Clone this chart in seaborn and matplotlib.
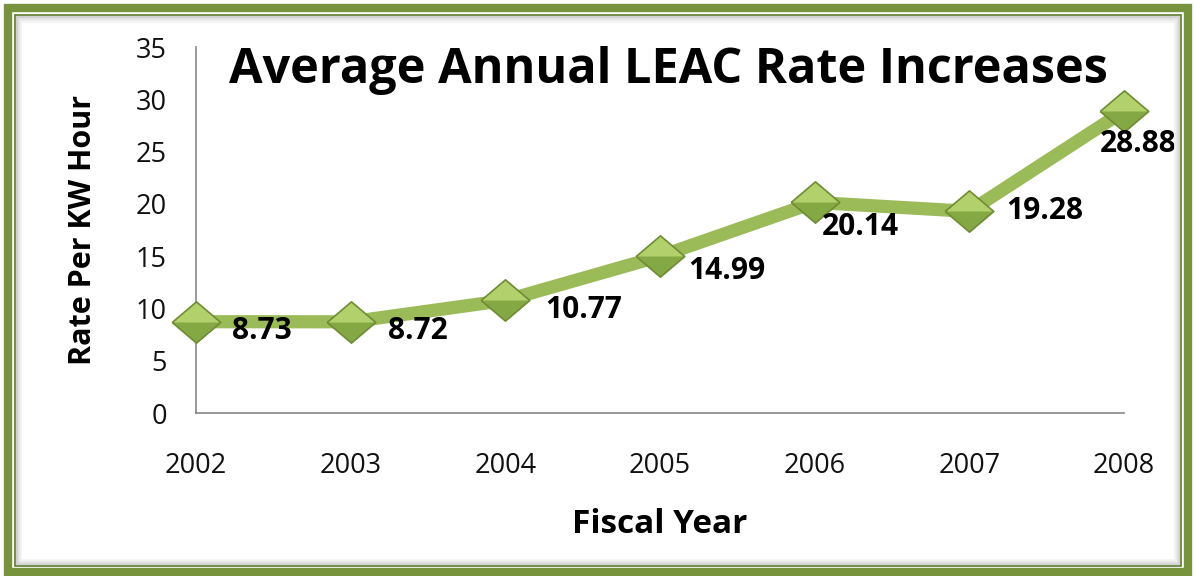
import matplotlib
matplotlib.use('Agg')
import matplotlib.pyplot as plt
import seaborn as sns
import pandas as pd
from matplotlib.patches import Rectangle

# Set seaborn style
sns.set_style('white')
plt.rcParams['font.family'] = ['Open Sans', 'DejaVu Sans']
plt.rcParams['text.color'] = 'black'
plt.rcParams['axes.labelcolor'] = 'black'

# Chart data
years = [2002, 2003, 2004, 2005, 2006, 2007, 2008]
rates = [8.73, 8.72, 10.77, 14.99, 20.14, 19.28, 28.88]
rate_labels = ['8.73', '8.72', '10.77', '14.99', '20.14', '19.28', '28.88']
y_ticks = [0, 5, 10, 15, 20, 25, 30, 35]

# label placement (pixels from the marker), like the excel data labels
label_offsets = [(36, -9), (37, -9), (40, -10), (28, -15), (7, -25), (37, 0), (-24, -33)]

df = pd.DataFrame({'Year': years, 'Rate': rates})

line_green = '#9BBB59'
frame_green = '#77933C'
axis_gray = '#868686'

fig = plt.figure(figsize=(11.96, 5.76), dpi=100)
ax = fig.add_axes([196 / 1196, 1 - 413 / 576, (1124 - 196) / 1196, (413 - 47) / 576])

# frame around the chart
fig.patches.append(Rectangle((8 / 1196, 4 / 576), 1180 / 1196, 564 / 576, transform=fig.transFigure,
                             fill=False, edgecolor=frame_green, linewidth=6, zorder=0))
fig.patches.append(Rectangle((15 / 1196, 10 / 576), 1166 / 1196, 551 / 576, transform=fig.transFigure,
                             fill=False, edgecolor='#5E7A2C', linewidth=1.2, zorder=0))
for i, c in enumerate(['#C8C8C8', '#DADADA', '#E8E8E8', '#F2F2F2']):
    off = 17 + i * 1.5
    fig.patches.append(Rectangle((off / 1196, (12 + i * 1.5) / 576), (1162 - i * 3) / 1196, (547 - i * 3) / 576,
                                 transform=fig.transFigure, fill=False, edgecolor=c, linewidth=1.2, zorder=0))

# wide diamond marker
diamond = [(-1, 0), (0, 0.85), (1, 0), (0, -0.85), (-1, 0)]
top_half = [(-1, 0), (0, 0.85), (1, 0), (-1, 0)]

sns.lineplot(data=df, x='Year', y='Rate', ax=ax, color=line_green, linewidth=9.5,
             marker=diamond, markersize=35, markerfacecolor='#84A843',
             markeredgecolor='#6F8C35', markeredgewidth=1.2, solid_joinstyle='round',
             zorder=3, clip_on=False)
# lighter top half of the diamonds
ax.plot(df['Year'], df['Rate'], linestyle='none', marker=top_half, markersize=33,
        color='#B2D06C', markeredgewidth=0, zorder=4, clip_on=False)

for yr, val, lab, off in zip(years, rates, rate_labels, label_offsets):
    ax.annotate(lab, (yr, val), xytext=off, textcoords='offset pixels', ha='left', va='center',
                fontsize=21.5, fontweight='bold', color='black', zorder=5)

ax.set_xlim(years[0], years[-1])
ax.set_ylim(0, 35)
ax.set_xticks(years)
ax.set_xticklabels([str(y) for y in years])
ax.set_yticks(y_ticks)

for side in ['top', 'right']:
    ax.spines[side].set_visible(False)
for side in ['left', 'bottom']:
    ax.spines[side].set_color(axis_gray)
    ax.spines[side].set_linewidth(1.2)
ax.tick_params(axis='y', direction='out', length=9, width=1.2, color=axis_gray, pad=12,
               labelsize=19.5, labelcolor='#111111')
ax.tick_params(axis='x', direction='out', length=7, width=1.2, color=axis_gray, pad=21,
               labelsize=19.5, labelcolor='#111111')
ax.patch.set_alpha(0)

ax.set_xlabel('Fiscal Year', fontsize=24, fontweight='bold', labelpad=20)
ax.set_ylabel('Rate Per KW Hour', fontsize=22, fontweight='bold', labelpad=27)

fig.text(668 / 1196, 1 - 83 / 576, 'Average Annual LEAC Rate Increases', ha='center', va='baseline',
         fontsize=35, fontweight='bold')

fig.savefig('out.png', dpi=100)
